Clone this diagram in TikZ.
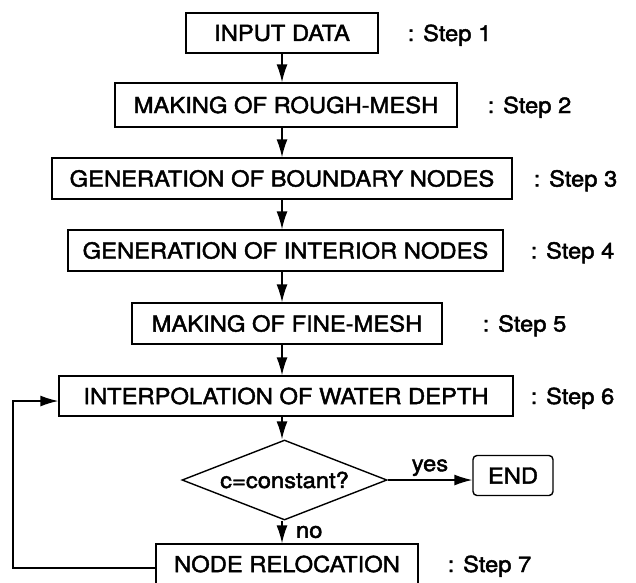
\documentclass[tikz,border=0pt]{standalone}
\usepackage{fontspec}
\setmainfont{TeX Gyre Heros}[FakeStretch=1.08,FakeBold=2]
\usetikzlibrary{shapes.geometric,arrows.meta}
\begin{document}
\begin{tikzpicture}[x=1pt,y=-1pt,
  font=\fontsize{22}{26}\selectfont,
  line width=1.4pt,
  box/.style={draw, rectangle, inner sep=0pt, anchor=center},
  lab/.style={anchor=base west, inner sep=0pt},
  arr/.style={-{Latex[length=18pt,width=11pt]}}]
\useasboundingbox (0,0) rectangle (636,582);
\coordinate (ax) at (282,0);
% boxes
\node[box, minimum width=192pt, minimum height=40pt] (b1) at (282,33) {INPUT DATA};
\node[box, minimum width=342pt, minimum height=44pt] (b2) at (286,105) {MAKING OF ROUGH-MESH};
\node[box, minimum width=460pt, minimum height=41pt] (b3) at (282,178.5) {GENERATION OF BOUNDARY NODES};
\node[box, minimum width=435pt, minimum height=41pt] (b4) at (285.5,250.5) {GENERATION OF INTERIOR NODES};
\node[box, minimum width=310pt, minimum height=41pt] (b5) at (287,323.5) {MAKING OF FINE-MESH};
\node[box, minimum width=454pt, minimum height=40pt] (b6) at (286,396) {INTERPOLATION OF WATER DEPTH};
\node[draw, diamond, aspect=2.5625, inner sep=0pt, minimum width=205pt, minimum height=80pt] (d) at (284.5,480) {c=constant?};
\node[box, rounded corners=4pt, minimum width=80pt, minimum height=40pt] (e) at (513,475.5) {END};
\node[box, minimum width=262pt, minimum height=40pt] (b7) at (287,564) {NODE RELOCATION};
% step labels
\node[lab] (s1) at (407,41) {: Step 1};
\node[lab] (s2) at (487,113) {: Step 2};
\node[lab] (s3) at (533,186.5) {: Step 3};
\node[lab] (s4) at (530,258.5) {: Step 4};
\node[lab] (s5) at (482,331.5) {: Step 5};
\node[lab] (s6) at (530,404) {: Step 6};
\node[lab] (s7) at (447,572) {: Step 7};
% connectors
\draw[arr] (b1.south -| ax) -- (b2.north -| ax);
\draw[arr] (b2.south -| ax) -- (b3.north -| ax);
\draw[arr] (b3.south -| ax) -- (b4.north -| ax);
\draw[arr] (b4.south -| ax) -- (b5.north -| ax);
\draw[arr] (b5.south -| ax) -- (b6.north -| ax);
\draw[arr] (b6.south -| ax) -- (d.north -| ax);
\draw[arr] (d.east) -- node[above=0pt, pos=0.5] (yes) {yes} (e.west |- d.east);
\draw[arr] (d.south -| ax) -- node[anchor=west, xshift=10pt] (no) {no} (b7.north -| ax);
\coordinate (lp) at (13,0);
\draw[arr] ([yshift=-4pt]b7.west) -- ([yshift=-4pt]b7.west -| lp) |- ([yshift=-5pt]b6.west);
\end{tikzpicture}
\end{document}
